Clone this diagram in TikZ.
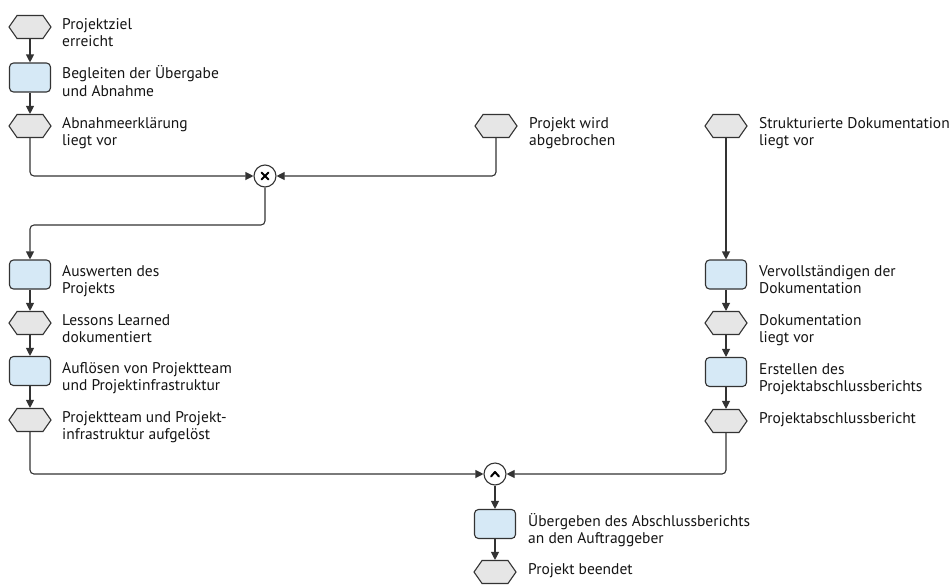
\documentclass[tikz,border=0pt]{standalone}
\usepackage{fontspec}
\setmainfont{PT Sans}
\usetikzlibrary{shapes.symbols,arrows.meta}
\definecolor{evfill}{HTML}{E6E6E6}
\definecolor{fnfill}{HTML}{D6E9F6}
\definecolor{edgec}{HTML}{333333}
\begin{document}
\begin{tikzpicture}[x=1pt,y=-1pt,
 ev/.style={signal, signal to=west and east, signal pointer angle=110, minimum width=42pt, minimum height=23pt, inner sep=0pt, fill=evfill, draw=edgec, line width=1.1pt},
 fn/.style={rectangle, rounded corners=4pt, minimum width=41pt, minimum height=29pt, inner sep=0pt, fill=fnfill, draw=edgec, line width=1.1pt},
 gate/.style={circle, minimum size=22pt, inner sep=0pt, fill=white, draw=edgec, line width=1.1pt},
 lbl/.style={anchor=base west, align=left, inner sep=0pt, font=\fontsize{15.5}{17.5}\selectfont, text=black!92},
 flow/.style={draw=edgec, line width=1.1pt, rounded corners=4pt, -{Triangle[length=8pt,width=8pt]}},
 sym/.style={draw=black, line width=2pt, line cap=round, line join=round}
]
\useasboundingbox (0,0) rectangle (952,584);

% left column
\node[ev] (hA) at (30,27) {};
\node[fn] (rA) at (30,77.5) {};
\node[ev] (hB) at (30,126) {};
\node[fn] (rC) at (30,274.5) {};
\node[ev] (hD) at (30,323) {};
\node[fn] (rE) at (30,371) {};
\node[ev] (hF) at (30,420) {};

% middle
\node[ev] (hAb) at (496,126) {};
\node[gate] (xor) at (265,176) {};
\node[gate] (and) at (495,474) {};
\node[fn] (rU) at (495,524) {};
\node[ev] (hEnd) at (495,572) {};

% right column
\node[ev] (hS) at (726,126) {};
\node[fn] (rV) at (726,274.5) {};
\node[ev] (hDok) at (726,323) {};
\node[fn] (rErst) at (726,372) {};
\node[ev] (hPAB) at (726,421) {};

% gate symbols
\draw[sym] ([shift={(-3.5,-3.5)}]xor.center) -- ([shift={(3.5,3.5)}]xor.center);
\draw[sym] ([shift={(-3.5,3.5)}]xor.center) -- ([shift={(3.5,-3.5)}]xor.center);
\draw[sym] ([shift={(-4,2.5)}]and.center) -- ([shift={(0,-2)}]and.center) -- ([shift={(4,2.5)}]and.center);

% labels (base anchor = last line)
\node[lbl] (tA) at (62,46.5) {Projektziel\\erreicht};
\node[lbl] (trA) at (62,96) {Begleiten der Übergabe\\und Abnahme};
\node[lbl] (tB) at (62,145.5) {Abnahmeerklärung\\liegt vor};
\node[lbl] (tC) at (62,293.5) {Auswerten des\\Projekts};
\node[lbl] (tD) at (62,342.5) {Lessons Learned\\dokumentiert};
\node[lbl] (tE) at (62,390.5) {Auflösen von Projektteam\\und Projektinfrastruktur};
\node[lbl] (tF) at (62,439.5) {Projektteam und Projekt-\\infrastruktur aufgelöst};
\node[lbl] (tAb) at (529,145.5) {Projekt wird\\abgebrochen};
\node[lbl] (tS) at (759,145.5) {Strukturierte Dokumentation\\liegt vor};
\node[lbl] (tV) at (759,293.5) {Vervollständigen der\\Dokumentation};
\node[lbl] (tDok) at (759,342.5) {Dokumentation\\liegt vor};
\node[lbl] (tErst) at (759,391.5) {Erstellen des\\Projektabschlussberichts};
\node[lbl] (tPAB) at (759,423) {Projektabschlussbericht};
\node[lbl] (tU) at (528,543.5) {Übergeben des Abschlussberichts\\an den Auftraggeber};
\node[lbl] (tEnd) at (528,574) {Projekt beendet};

% connectors
\coordinate (bendL) at (30,225);
\path[flow] (hA.south) -- (rA.north);
\path[flow] (rA.south) -- (hB.north);
\path[flow] (hB.south) |- (xor.west);
\path[flow] (hAb.south) |- (xor.east);
\path[flow] (xor.south) |- (bendL) -- (rC.north);
\path[flow] (rC.south) -- (hD.north);
\path[flow] (hD.south) -- (rE.north);
\path[flow] (rE.south) -- (hF.north);
\path[flow] (hF.south) |- (and.west);
\path[flow] (hPAB.south) |- (and.east);
\path[flow] (and.south) -- (rU.north);
\path[flow] (rU.south) -- (hEnd.north);
\path[flow] (hS.south) -- (rV.north);
\path[flow] (rV.south) -- (hDok.north);
\path[flow] (hDok.south) -- (rErst.north);
\path[flow] (rErst.south) -- (hPAB.north);
\end{tikzpicture}
\end{document}
